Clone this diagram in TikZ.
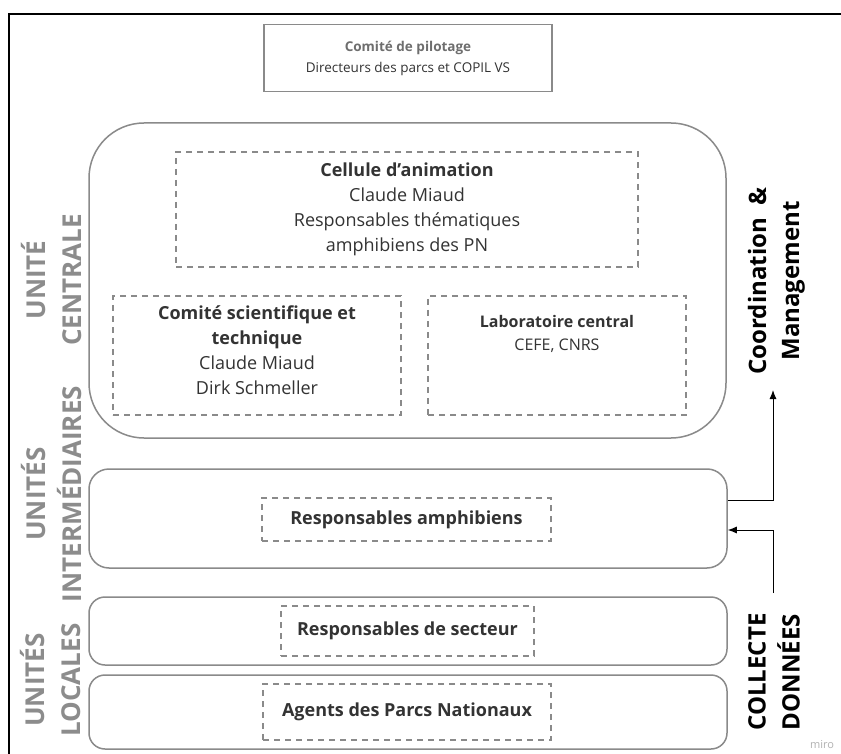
\documentclass[tikz,border=0pt]{standalone}
\usepackage{fontspec}
\setmainfont{Open Sans}
\usetikzlibrary{arrows.meta}
\definecolor{boxgray}{HTML}{8A8A8A}
\definecolor{labgray}{HTML}{8C8C8C}
\definecolor{txt}{HTML}{333333}
\definecolor{copilgray}{HTML}{6E6E6E}
\begin{document}
\begin{tikzpicture}[x=1pt,y=-1pt,
  rbox/.style={draw=boxgray, line width=1.5pt, rounded corners=#1, inner sep=0pt},
  dbox/.style={draw=boxgray, line width=1.3pt, dash pattern=on 6pt off 5pt, inner sep=0pt},
  bodytxt/.style={align=center, text=txt, font=\fontsize{18}{25}\selectfont},
  boldtxt/.style={align=center, text=txt, font=\bfseries\fontsize{18}{25}\selectfont},
  sidelab/.style={rotate=90, align=center, text=labgray, font=\bfseries\fontsize{26}{36}\selectfont},
  rightlab/.style={rotate=90, align=center, text=black, font=\bfseries\fontsize{24}{33}\selectfont},
  arr/.style={draw=black, line width=1pt, -{Latex[length=9pt,width=7pt]}}]
\useasboundingbox (0,0) rectangle (841,754);
\fill[white] (0,0) rectangle (841,754);
% outer frame
\draw[line width=2pt] (9,754) -- (9,14) -- (841,14);
% comite de pilotage
\node[draw=boxgray, line width=1.5pt, minimum width=288pt, minimum height=67pt, align=center,
  font=\fontsize{13.5}{21}\selectfont, text=txt] (copil) at (408,58)
  {\textcolor{copilgray}{\bfseries Comité de pilotage}\\Directeurs des parcs et COPIL VS};
% central unit
\node[rbox=55pt, minimum width=637pt, minimum height=315pt] (central) at (407.5,280.5) {};
\node[dbox, minimum width=462pt, minimum height=115pt] (cellule) at (407,209.5) {};
\node[bodytxt] (celltxt) at (cellule) {{\bfseries Cellule d\symbol{39}animation}\\Claude Miaud\\Responsables thématiques\\amphibiens des PN};
\node[dbox, minimum width=288pt, minimum height=119pt] (cst) at (257,355.5) {};
\node[bodytxt] (csttxt) at (257,350) {{\bfseries Comité scientifique et}\\{\bfseries technique}\\Claude Miaud\\Dirk Schmeller};
\node[dbox, minimum width=258pt, minimum height=119pt] (labo) at (557,355.5) {};
\node[align=center, text=txt, font=\fontsize{16}{23}\selectfont] (labotxt) at (557,333.5) {{\bfseries Laboratoire central}\\CEFE, CNRS};
% intermediate
\node[rbox=20pt, minimum width=638pt, minimum height=99pt] (inter) at (408,518.5) {};
\node[dbox, boldtxt, minimum width=289pt, minimum height=43pt] (respamph) at (406.5,519.5) {Responsables amphibiens};
% locales
\node[rbox=16pt, minimum width=638pt, minimum height=68pt] (secteur) at (408,631) {};
\node[dbox, boldtxt, minimum width=253pt, minimum height=50pt] (respsect) at (407.5,631) {Responsables de secteur};
\node[rbox=16pt, minimum width=638pt, minimum height=74pt] (agentsbox) at (408,712) {};
\node[dbox, boldtxt, minimum width=288pt, minimum height=56pt] (agents) at (407,712) {Agents des Parcs Nationaux};
% side labels
\node[sidelab] (lcent) at (52,280) {UNITÉ\\CENTRALE};
\node[sidelab] (linter) at (52,494) {UNITÉS\\INTERMÉDIAIRES};
\node[sidelab] (lloc) at (51,680) {UNITÉS\\LOCALES};
\node[rightlab] (coord) at (776.5,281) {Coordination\ \ \&\\Management};
\node[rotate=90, align=center, text=black, font=\bfseries\fontsize{24}{34}\selectfont] (collecte) at (774,672) {COLLECTE\\DONNÉES};
% arrows
\coordinate (cmtip) at (773,390);
\coordinate (cdstart) at (773,593);
\draw[arr] ([yshift=18.5pt]inter.east) -| (cmtip);
\draw[arr] (cdstart) |- ([yshift=-11.5pt]inter.east);
\node[text=black!30, font=\fontsize{11}{11}\selectfont] (miro) at (822,745) {miro};
\end{tikzpicture}
\end{document}
